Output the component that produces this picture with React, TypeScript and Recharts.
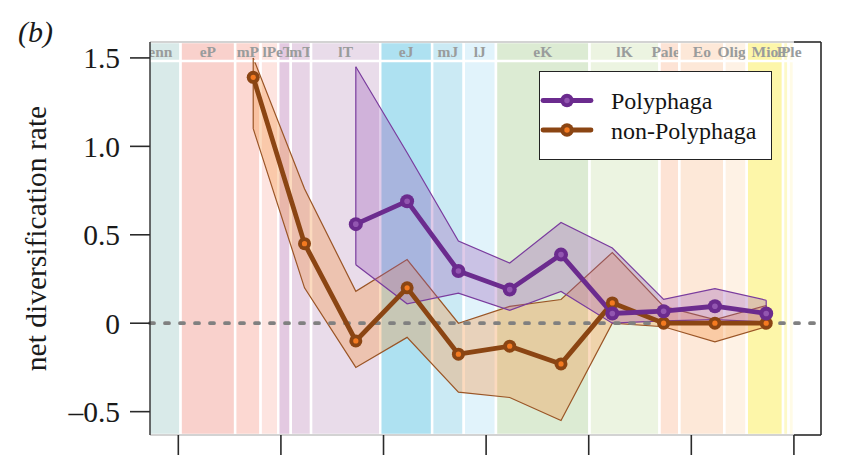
import React from "react";
import {
  ComposedChart,
  XAxis,
  YAxis,
  Line,
  Area,
  ReferenceArea,
  ReferenceLine,
  Legend,
} from "recharts";

// ---------- data ----------
const times = [263.5, 238.5, 213.5, 188.5, 163.5, 138.5, 113.5, 88.5, 63.5, 38.5, 13.5];

const nonPolyphaga = [1.39, 0.45, -0.1, 0.2, -0.175, -0.13, -0.23, 0.115, 0.0, 0.0, 0.0];
const nonPolyphagaLow = [1.1, 0.2, -0.25, -0.08, -0.39, -0.42, -0.55, 0.0, -0.02, -0.105, -0.02];
const nonPolyphagaHigh = [1.5, 0.76, 0.18, 0.36, 0.0, 0.095, 0.134, 0.4, 0.095, 0.02, 0.1];

const polyphaga = [null, null, 0.56, 0.69, 0.295, 0.19, 0.388, 0.055, 0.068, 0.096, 0.055];
const polyphagaLow = [null, null, 0.33, 0.11, 0.17, 0.073, 0.18, 0.0, 0.013, 0.02, 0.007];
const polyphagaHigh = [null, null, 1.45, 0.964, 0.465, 0.34, 0.57, 0.425, 0.135, 0.196, 0.13];

const periodLabels = ["Penn", "eP", "mP", "lP", "eT", "mT", "lT", "eJ", "mJ", "lJ", "eK", "lK", "Paleo", "Eo", "Oligo", "Mio", "Pli", "Ple"];
const periodStart = [323.2, 298.9, 272.3, 259.9, 251.3, 245.2, 235.3, 201.6, 176.3, 160.9, 145.2, 99.6, 65.5, 55.8, 33.9, 23.0, 5.3, 2.6];
const periodEnd = [298.9, 272.3, 259.9, 251.3, 245.2, 235.3, 201.6, 176.3, 160.9, 145.2, 99.6, 65.5, 55.8, 33.9, 23.0, 5.3, 2.6, 0.0];
const periodColors = [
  "#d9eae9", "#f9d1cc", "#fcd8d2", "#fde4e0", "#e3c9e1", "#e7d4e6", "#e9dcea",
  "#aee1f1", "#cbeaf4", "#e1f3fb", "#dcebd3", "#ecf4e1", "#fde3d5", "#fde8d8",
  "#fef2e5", "#fdf6a9", "#fdf9c9", "#fffbe6",
];

const xTicks = [300, 250, 200, 150, 100, 50, 0];
const yTicks = [-0.5, 0, 0.5, 1.0, 1.5];

const X_MIN = -13.2;
const X_MAX = 313.8;
const Y_MIN = -0.632;
const Y_MAX = 1.59;
const STRIP = 1.483;

const seriesInfo = [
  { name: "Polyphaga", color: "#6b2b8e", inner: "#9256b0", r: 7, band: "#7a3c9e" },
  { name: "non-Polyphaga", color: "#8b4513", inner: "#f47a20", r: 6.5, band: "#9a5526" },
];

// ---------- derived tables ----------
const nonRows = times.map((t, i) => ({
  t,
  v: nonPolyphaga[i],
  lo: nonPolyphagaLow[i],
  hi: nonPolyphagaHigh[i],
  range: [nonPolyphagaLow[i], nonPolyphagaHigh[i]],
}));
const polyRows = times
  .map((t, i) => ({ t, v: polyphaga[i], lo: polyphagaLow[i], hi: polyphagaHigh[i], range: [polyphagaLow[i], polyphagaHigh[i]] }))
  .filter((r) => r.v !== null);

const bandEnds = [
  { row: nonRows[0], color: seriesInfo[1].band },
  { row: nonRows[nonRows.length - 1], color: seriesInfo[1].band },
  { row: polyRows[0], color: seriesInfo[0].band },
  { row: polyRows[polyRows.length - 1], color: seriesInfo[0].band },
];

const bands = periodLabels.map((label, i) => ({
  label,
  x1: periodStart[i],
  x2: periodEnd[i],
  color: periodColors[i],
}));

const SERIF = "'Liberation Serif', 'Times New Roman', serif";

const fmtY = (v: number) => (v === 0 ? "0" : v < 0 ? "\u2013" + Math.abs(v).toFixed(1) : v.toFixed(1));

const makeDot = (color: string, inner: string, r: number) => (props: any) => {
  const { cx, cy, index } = props;
  if (cx == null || cy == null) return <g key={"d" + index} />;
  return (
    <g key={"d" + index}>
      <circle cx={cx} cy={cy} r={r} fill={color} />
      <circle cx={cx} cy={cy} r={r * 0.4} fill={inner} />
    </g>
  );
};

const BandLabel = (text: string) => (props: any) => {
  const vb = props.viewBox || {};
  if (vb.x == null) return null;
  return (
    <text
      x={vb.x + vb.width / 2}
      y={vb.y + 14.5}
      textAnchor="middle"
      clipPath="url(#stripClip)"
      fontFamily={SERIF}
      fontWeight="bold"
      fontSize={15.5}
      fill="#999c9c"
    >
      {text}
    </text>
  );
};

const ClipDef = (props: any) => {
  const vb = props.viewBox || {};
  if (vb.x == null) return null;
  return (
    <defs>
      <clipPath id="stripClip">
        <rect x={vb.x} y={vb.y} width={vb.width} height={vb.height} />
      </clipPath>
    </defs>
  );
};

const YLabel = (props: any) => {
  const vb = props.viewBox || {};
  const cx = (vb.x ?? 0) + 36;
  const cy = (vb.y ?? 0) + (vb.height ?? 0) / 2;
  return (
    <text
      x={cx}
      y={cy}
      transform={`rotate(-90, ${cx}, ${cy})`}
      textAnchor="middle"
      dominantBaseline="central"
      fontFamily={SERIF}
      fontSize={29.5}
      fill="#1a1a1a"
    >
      net diversification rate
    </text>
  );
};

const LegendBox = () => (
  <div
    style={{
      width: 233,
      height: 89,
      border: "1.5px solid #222",
      background: "#fff",
      boxSizing: "border-box",
      position: "relative",
      fontFamily: SERIF,
      fontSize: 24,
      color: "#141414",
    }}
  >
    {seriesInfo.map((s, i) => (
      <div key={s.name} style={{ position: "absolute", left: 0, top: 0, width: "100%", height: "100%" }}>
        <svg width={60} height={89} style={{ position: "absolute", left: 0, top: 0 }}>
          <line x1={3} x2={51} y1={28.5 + i * 29.5} y2={28.5 + i * 29.5} stroke={s.color} strokeWidth={4.8} strokeLinecap="round" />
          <circle cx={27} cy={28.5 + i * 29.5} r={6.7} fill={s.color} />
          <circle cx={27} cy={28.5 + i * 29.5} r={2.7} fill={s.inner} />
        </svg>
        <div style={{ position: "absolute", left: 71, top: 17 + i * 29.5, lineHeight: "24px", whiteSpace: "nowrap" }}>
          {s.name}
        </div>
      </div>
    ))}
  </div>
);

export default function App() {
  return (
    <div style={{ position: "absolute", left: 0, top: 0, width: 851, height: 468, background: "#fff" }}>
      <div
        style={{
          position: "absolute",
          left: 18,
          top: 17,
          fontFamily: SERIF,
          fontStyle: "italic",
          fontSize: 30,
          lineHeight: "30px",
          color: "#1a1a1a",
          zIndex: 2,
        }}
      >
        (b)
      </div>
      <ComposedChart width={851} height={468} margin={{ top: 42, right: 30, bottom: 0, left: 0 }}>
        <XAxis
          type="number"
          dataKey="t"
          domain={[X_MIN, X_MAX]}
          reversed
          allowDataOverflow
          ticks={xTicks}
          tick={() => <g />}
          tickSize={20}
          axisLine={false}
          tickLine={{ stroke: "#2a2a2a", strokeWidth: 1.6 }}
          height={33}
        />
        <YAxis
          type="number"
          domain={[Y_MIN, Y_MAX]}
          allowDataOverflow
          ticks={yTicks}
          tickFormatter={fmtY}
          width={150}
          tickSize={20}
          tickMargin={10}
          tick={{ fontSize: 29.5, fontFamily: SERIF, fill: "#1a1a1a" }}
          axisLine={{ stroke: "#3a3a3a", strokeWidth: 1.5 }}
          tickLine={{ stroke: "#2a2a2a", strokeWidth: 1.6 }}
          label={YLabel}
        />
        {bands.map((b) => (
          <ReferenceArea
            key={b.label}
            x1={b.x1}
            x2={b.x2}
            y1={Y_MIN}
            y2={Y_MAX}
            fill={b.color}
            fillOpacity={1}
            stroke="#ffffff"
            strokeWidth={2.5}
            ifOverflow="hidden"
            label={BandLabel(b.label)}
          />
        ))}
        <ReferenceArea x1={X_MAX} x2={X_MIN} y1={STRIP} y2={Y_MAX} fill="none" stroke="none" fillOpacity={0} label={ClipDef} />
        <ReferenceLine y={STRIP} stroke="#ffffff" strokeWidth={2.5} />
        <ReferenceLine segment={[{ x: X_MAX, y: Y_MAX }, { x: 0, y: Y_MAX }]} stroke="#c4c4c4" strokeWidth={1.5} />
        <ReferenceLine segment={[{ x: X_MAX, y: Y_MIN }, { x: 0, y: Y_MIN }]} stroke="#c4c4c4" strokeWidth={1.5} />
        <ReferenceLine segment={[{ x: 0, y: Y_MAX }, { x: X_MIN, y: Y_MAX }]} stroke="#2a2a2a" strokeWidth={1.6} />
        <ReferenceLine segment={[{ x: 0, y: Y_MIN }, { x: X_MIN, y: Y_MIN }]} stroke="#2a2a2a" strokeWidth={1.6} />
        <ReferenceLine x={X_MIN} stroke="#2a2a2a" strokeWidth={1.6} />
        <ReferenceLine y={0} stroke="#808080" strokeWidth={3.8} strokeDasharray="4 11" strokeLinecap="round" />
        <Area
          data={nonRows}
          dataKey="range"
          type="linear"
          fill="#f5994a"
          fillOpacity={0.36}
          stroke={seriesInfo[1].band}
          strokeWidth={1.2}
          isAnimationActive={false}
          legendType="none"
          dot={false}
          activeDot={false}
        />
        <Area
          data={polyRows}
          dataKey="range"
          type="linear"
          fill="#9b59b6"
          fillOpacity={0.32}
          stroke={seriesInfo[0].band}
          strokeWidth={1.2}
          isAnimationActive={false}
          legendType="none"
          dot={false}
          activeDot={false}
        />
        {bandEnds.map((e, i) => (
          <ReferenceLine
            key={"end" + i}
            segment={[{ x: e.row.t, y: e.row.lo as number }, { x: e.row.t, y: e.row.hi as number }]}
            stroke={e.color}
            strokeWidth={1.2}
          />
        ))}
        <Line
          data={nonRows}
          dataKey="v"
          name="non-Polyphaga"
          type="linear"
          stroke={seriesInfo[1].color}
          strokeWidth={4.8}
          dot={makeDot(seriesInfo[1].color, seriesInfo[1].inner, seriesInfo[1].r)}
          activeDot={false}
          isAnimationActive={false}
        />
        <Line
          data={polyRows}
          dataKey="v"
          name="Polyphaga"
          type="linear"
          stroke={seriesInfo[0].color}
          strokeWidth={4.8}
          dot={makeDot(seriesInfo[0].color, seriesInfo[0].inner, seriesInfo[0].r)}
          activeDot={false}
          isAnimationActive={false}
        />
        <Legend
          layout="vertical"
          align="center"
          verticalAlign="middle"
          content={LegendBox}
          wrapperStyle={{ position: "absolute", left: 539, top: 71, width: 233, height: 89 }}
        />
      </ComposedChart>
    </div>
  );
}
